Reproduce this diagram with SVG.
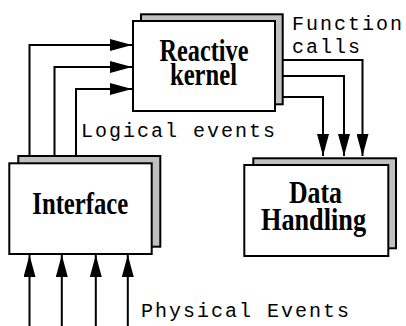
<svg xmlns="http://www.w3.org/2000/svg" width="406" height="326" viewBox="0 0 406 326">
<style>
.bg{fill:#ffffff}
.sh{fill:#c0c0c0;stroke:#000;stroke-width:2}
.fr{fill:#ffffff;stroke:#000;stroke-width:2}
.lbl{font-family:"Liberation Serif","Times New Roman",serif;font-weight:bold;font-size:31px;fill:#000;text-anchor:middle}
.mono{font-family:"Liberation Mono","Courier New",monospace;font-size:20px;letter-spacing:2px;fill:#000}
.c{fill:none;stroke:#000;stroke-width:2;stroke-linejoin:miter;marker-end:url(#ah)}
</style>
<defs>
<marker id="ah" markerUnits="userSpaceOnUse" markerWidth="22" markerHeight="12" refX="22" refY="6" orient="auto">
<path d="M0,0 L22,6 L0,12 z" fill="#000"/>
</marker>
</defs>
<rect class="bg" x="0" y="0" width="406" height="326"/>
<g id="connectors">
<path class="c" d="M29.5,156 V45 H132"/>
<path class="c" d="M54.5,156 V67 H132"/>
<path class="c" d="M76,156 V89 H132"/>
<path class="c" d="M283,60 H362.5 V156"/>
<path class="c" d="M283,76 H344 V156"/>
<path class="c" d="M283,97 H323 V156"/>
<path class="c" d="M29.5,326 V255"/>
<path class="c" d="M61.8,326 V255"/>
<path class="c" d="M95.8,326 V255"/>
<path class="c" d="M127.8,326 V255"/>
</g>
<g id="kernel">
<rect class="sh" x="141" y="14.3" width="141.7" height="90"/>
<rect class="fr" x="133" y="21" width="142" height="90"/>
<text class="lbl" x="204" y="61" textLength="89" lengthAdjust="spacingAndGlyphs">Reactive</text>
<text class="lbl" x="203.5" y="85" textLength="67" lengthAdjust="spacingAndGlyphs">kernel</text>
</g>
<g id="interface">
<rect class="sh" x="18.3" y="156" width="142" height="90.7"/>
<rect class="fr" x="9.3" y="163.3" width="142.4" height="90.7"/>
<text class="lbl" x="80.3" y="213.5" textLength="96" lengthAdjust="spacingAndGlyphs">Interface</text>
</g>
<g id="datahandling">
<rect class="sh" x="253.3" y="158.3" width="142.7" height="90"/>
<rect class="fr" x="244.3" y="165" width="144" height="91"/>
<text class="lbl" x="315.5" y="202.5" textLength="53" lengthAdjust="spacingAndGlyphs">Data</text>
<text class="lbl" x="313.5" y="230" textLength="105" lengthAdjust="spacingAndGlyphs">Handling</text>
</g>
<g id="labels">
<text class="mono" x="81" y="137">Logical events</text>
<text class="mono" x="292" y="30">Function</text>
<text class="mono" x="292" y="53">calls</text>
<text class="mono" x="141" y="317">Physical Events</text>
</g>
</svg>
